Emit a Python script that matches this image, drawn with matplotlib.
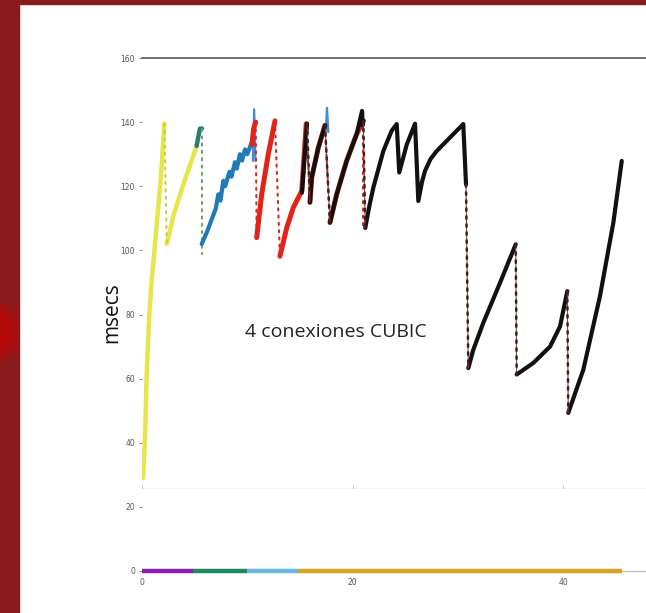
"""Slide chart: RTT (msecs) sawtooth of 4 CUBIC connections over time."""

import matplotlib

matplotlib.use("Agg")  # headless

import matplotlib.pyplot as plt
from matplotlib.patches import Ellipse, Rectangle

# --- data (time in s, RTT in msecs) -----------------------------------------
# each series is a list of rising segments; the drops between them are dotted
yellow_t = [[0.10, 0.28, 0.45, 0.69, 0.95, 1.10, 1.45, 1.80, 2.12],
            [2.35, 3.00, 3.77, 4.50, 5.19]]
yellow_v = [[29, 41, 62, 80, 92, 97, 110, 123, 139.5],
            [102, 111, 119, 126, 132.6]]

green_t = [[5.19, 5.35, 5.51, 5.70]]
green_v = [[132.6, 135.5, 138, 138]]
green_tail = 99

blue_t = [[5.67, 6.20, 6.62, 7.00, 7.25, 7.45, 7.72, 7.90, 8.30, 8.50, 8.83,
           9.00, 9.30, 9.50, 9.78, 10.00, 10.42, 10.55]]
blue_v = [[102, 106, 109.7, 113, 117.5, 115.5, 121.7, 120, 124.5, 123, 127.5,
           125.5, 130, 128, 131.5, 130, 133.7, 136]]
blue_spike_t = [10.65, 17.57]
blue_spike_lo = [128, 137]
blue_spike_hi = [144, 144.5]

red_t = [[10.45, 10.60, 10.80],
         [10.89, 11.37, 11.99, 12.63],
         [13.10, 13.74, 14.37, 15.17, 15.60],
         [15.95, 16.12, 16.74, 17.38],
         [17.85, 18.49, 19.44, 20.39, 21.02]]
red_v = [[133, 138, 140],
         [104, 117.5, 130, 140.4],
         [98.2, 107, 113.4, 118.5, 139.5],
         [115, 122.8, 132, 139],
         [108.7, 117.5, 128, 136.3, 140.4]]
red_tail = 107

black_t = [[15.19, 15.67],
           [15.95, 16.12, 16.74, 17.38],
           [17.85, 18.49, 19.44, 20.39, 20.90, 20.95, 21.02],
           [21.20, 21.60, 21.97, 22.92, 23.71, 24.19, 24.43, 25.14, 25.93,
            26.24, 26.60, 26.88, 27.40, 27.99, 29.25, 30.51, 30.77],
           [30.99, 31.46, 32.41, 34.00, 35.49],
           [35.58, 37.16, 38.75, 39.70, 40.39],
           [40.48, 41.91, 43.49, 44.76, 45.56]]
black_v = [[118, 139.5],
           [115, 122.8, 132, 139],
           [108.7, 117.5, 128, 136.3, 143.5, 139, 140.4],
           [107, 114, 119.6, 131, 137.3, 139.4, 124.3, 133, 139.5,
            115.4, 121.5, 124.8, 128.5, 131, 135.2, 139.4, 120.6],
           [63.3, 69, 77.4, 89.9, 101.9],
           [61.3, 64.9, 70, 76.3, 87.3],
           [49.3, 62.8, 85.7, 108.6, 127.9]]

# bottom strip: which connection is active over time
conn_start = [0, 4.84, 9.97, 14.8]
conn_end = [4.84, 9.97, 14.8, 45.6]
conn_colors = ["#8a1cb0", "#1b8a5e", "#6cb8dc", "#d9a21e"]

y_ticks_top = [40, 60, 80, 100, 120, 140, 160]
y_ticks_bot = [0, 20]
x_ticks = [0, 20, 40]

FRAME = "#8b1a1d"
TICK_GREY = "#555555"
LINE_GREY = "#bdbdbd"


def _dots(ax, xs, ys, color, lw=1.5, gap=2.5):
    ax.plot(xs, ys, color=color, lw=lw, ls=(0, (1, gap)), dash_capstyle="round")


def _draw_series(ax, seg_t, seg_v, color, lw, drop_color=None, tail=None):
    drop_color = drop_color or color
    for t, v in zip(seg_t, seg_v):
        ax.plot(t, v, color=color, lw=lw, solid_capstyle="round",
                solid_joinstyle="round")
    for i in range(len(seg_t) - 1):
        _dots(ax, [seg_t[i][-1], seg_t[i + 1][0]],
              [seg_v[i][-1], seg_v[i + 1][0]], drop_color)
    if tail is not None:
        _dots(ax, [seg_t[-1][-1], seg_t[-1][-1]], [seg_v[-1][-1], tail], drop_color)


W, H = 646, 613
fig = plt.figure(figsize=(W / 100, H / 100), dpi=100)
fig.patch.set_facecolor("white")

# slide frame: dark red band on the left and top, with a bright red dot
band = Rectangle((0, 0), 19 / W, 1, transform=fig.transFigure, color=FRAME, zorder=0)
fig.patches.append(band)
fig.patches.append(Rectangle((0, 1 - 4 / H), 1, 4 / H, transform=fig.transFigure,
                             color=FRAME, zorder=0))
for r, a in [(32, 0.35), (26, 0.5), (20, 0.7)]:
    dot = Ellipse((-8 / W, 1 - 332 / H), 2 * r / W, 2 * r / H,
                  transform=fig.transFigure, color="#b80808", alpha=a, lw=0,
                  zorder=1)
    dot.set_clip_path(band)
    fig.patches.append(dot)

x_max = (W - 142) / 10.53
left = 142 / W
ax = fig.add_axes([left, 1 - 489 / H, 1 - left, (489 - 58) / H])
axb = fig.add_axes([left, 1 - 571 / H, 1 - left, (571 - 489) / H], sharex=ax)

ax.set_xlim(0, x_max)
ax.set_ylim(25.6, 160)
axb.set_ylim(0, 25.6)

# --- curves ------------------------------------------------------------------
_draw_series(ax, yellow_t, yellow_v, "#e6e64a", 3.2, drop_color="#cccc3a")
_draw_series(ax, green_t, green_v, "#2a7f66", 3.2, drop_color="#6f9f6a", tail=green_tail)
_draw_series(ax, blue_t, blue_v, "#1f7ab8", 3.0)
for t, lo, hi in zip(blue_spike_t, blue_spike_lo, blue_spike_hi):
    ax.plot([t - 0.12, t, t + 0.12], [lo, hi, lo], color="#3a8fd0", lw=1.6)
_draw_series(ax, red_t, red_v, "#e2231a", 3.6, tail=red_tail)
for t, v in zip(black_t, black_v):
    ax.plot(t, v, color="#111111", lw=3.0, solid_capstyle="round",
            solid_joinstyle="round")
# black drops: thin red trace with sparse dark dots
for i in range(len(black_t) - 1):
    xs = [black_t[i][-1], black_t[i + 1][0]]
    ys = [black_v[i][-1], black_v[i + 1][0]]
    ax.plot(xs, ys, color="#c62a22", lw=0.8)
    _dots(ax, xs, ys, "#2a2a2a", lw=1.8, gap=2.2)

for c0, c1, col in zip(conn_start, conn_end, conn_colors):
    axb.plot([c0, c1], [0, 0], color=col, lw=3.2, solid_capstyle="butt",
             clip_on=False, zorder=3)

# --- axes cosmetics ----------------------------------------------------------
for side in ("left", "right"):
    ax.spines[side].set_visible(False)
    axb.spines[side].set_visible(False)
axb.spines["top"].set_visible(False)
ax.spines["top"].set_color("#4a4a4a")
ax.spines["top"].set_linewidth(1.1)
ax.spines["bottom"].set_color(LINE_GREY)
ax.spines["bottom"].set_linewidth(0.9)
axb.spines["bottom"].set_color(LINE_GREY)
axb.spines["bottom"].set_linewidth(0.9)

ax.set_yticks(y_ticks_top)
axb.set_yticks(y_ticks_bot)
ax.set_xticks(x_ticks)
for a in (ax, axb):
    a.tick_params(axis="y", length=2, width=0.6, color="#777777", pad=3,
                  labelsize=5.5, labelcolor=TICK_GREY)
ax.tick_params(axis="x", direction="in", length=3, width=0.6, color=LINE_GREY,
               labelbottom=False)
axb.tick_params(axis="x", length=0, pad=5, labelsize=5.5, labelcolor=TICK_GREY)

fig.text(112 / W, 1 - 313 / H, "msecs", rotation=90, ha="center", va="center",
         fontsize=15, family="Open Sans", color="#111111")
fig.text(245 / W, 1 - 337 / H, "4 conexiones CUBIC", ha="left", va="baseline",
         fontsize=14, family="Open Sans", color="#222222")

fig.savefig("out.png", dpi=100)
